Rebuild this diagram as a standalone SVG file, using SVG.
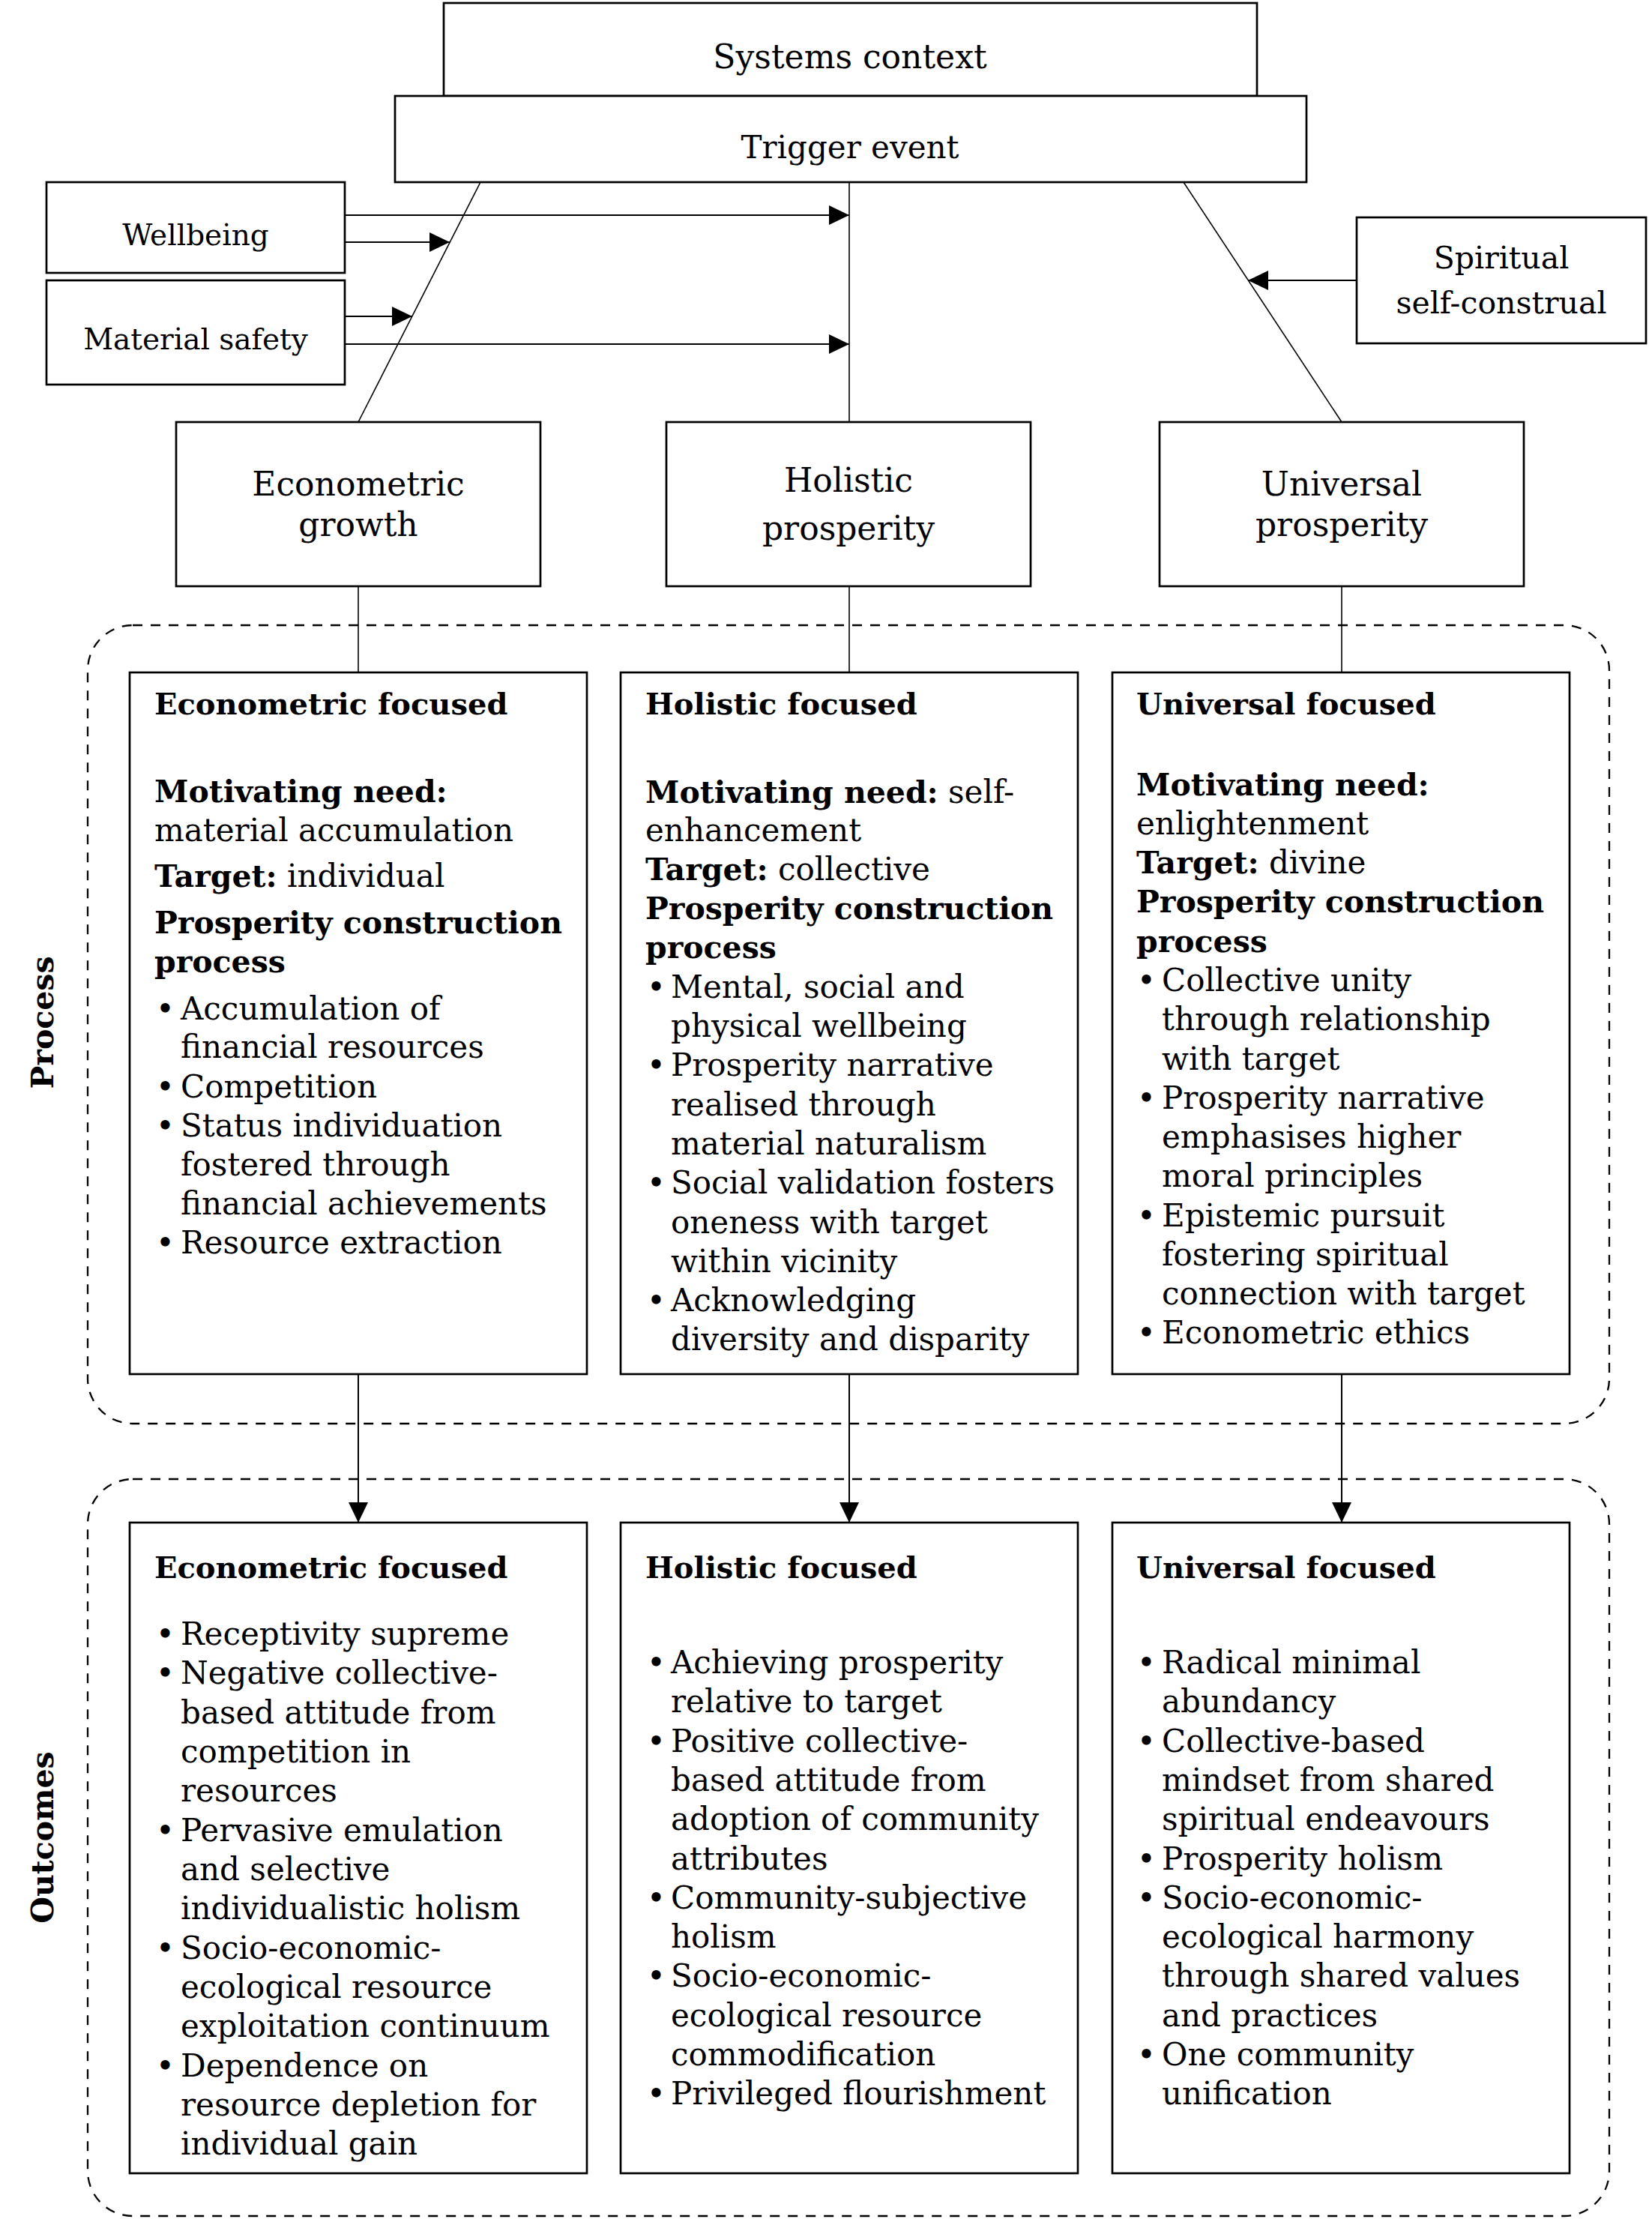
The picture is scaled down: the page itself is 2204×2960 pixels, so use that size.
<svg xmlns="http://www.w3.org/2000/svg" width="2204" height="2960" viewBox="0 0 2204 2960">
<style>
text{font-family:"DejaVu Serif","Liberation Serif",serif;font-size:42px;fill:#000}
.t{font-size:44px}
.s{font-size:39px}
.sp{font-size:41px}
.c{text-anchor:middle}
.h{font-weight:bold;font-size:40px}
.b{font-weight:bold;font-size:41px}
.lab{font-weight:bold;font-size:41px;text-anchor:middle}
.box{fill:#fff;stroke:#000;stroke-width:2.7}
.dash{fill:none;stroke:#000;stroke-width:2.3;stroke-dasharray:13 11}
.ln{stroke:#000;stroke-width:1.6;fill:none}
.ar{stroke:#000;stroke-width:2;fill:none;marker-end:url(#ah)}
</style>
<defs>
<marker id="ah" markerWidth="28" markerHeight="28" refX="27" refY="13" orient="auto" markerUnits="userSpaceOnUse"><path d="M0,0 L27,13 L0,26 z" fill="#000"/></marker>
</defs>
<rect width="2204" height="2960" fill="#fff"/>

<g id="process-region"><rect class="dash" x="117" y="834" width="2030" height="1065" rx="60"/>
<text class="lab" transform="translate(71,1364) rotate(-90)">Process</text></g>
<g id="outcomes-region"><rect class="dash" x="117" y="1973" width="2030" height="983" rx="60"/>
<text class="lab" transform="translate(71,2451) rotate(-90)">Outcomes</text></g>

<g id="connectors">
<line class="ln" x1="641" y1="243" x2="478" y2="563"/>
<line class="ln" x1="1133" y1="243" x2="1133" y2="563"/>
<line class="ln" x1="1579" y1="243" x2="1790" y2="563"/>
<line class="ar" x1="460" y1="287" x2="1133" y2="287"/>
<line class="ar" x1="460" y1="323" x2="600" y2="323"/>
<line class="ar" x1="460" y1="422" x2="550" y2="422"/>
<line class="ar" x1="460" y1="459" x2="1133" y2="459"/>
<line class="ar" x1="1810" y1="374" x2="1665" y2="374"/>
<line class="ln" x1="478" y1="782" x2="478" y2="897"/>
<line class="ln" x1="1133" y1="782" x2="1133" y2="897"/>
<line class="ln" x1="1790" y1="782" x2="1790" y2="897"/>
<line class="ar" x1="478" y1="1833" x2="478" y2="2031"/>
<line class="ar" x1="1133" y1="1833" x2="1133" y2="2031"/>
<line class="ar" x1="1790" y1="1833" x2="1790" y2="2031"/>
</g>

<g id="systems-context"><rect class="box" x="592" y="4" width="1085" height="124"/><text class="c t" x="1134" y="91">Systems context</text></g>
<g id="trigger-event"><rect class="box" x="527" y="128" width="1216" height="115"/><text class="c" x="1134" y="211">Trigger event</text></g>
<g id="wellbeing"><rect class="box" x="62" y="243" width="398" height="121"/><text class="c s" x="261" y="327">Wellbeing</text></g>
<g id="material-safety"><rect class="box" x="62" y="374" width="398" height="139"/><text class="c s" x="261" y="466">Material safety</text></g>
<g id="spiritual"><rect class="box" x="1810" y="290" width="386" height="168"/><text class="c sp" x="2003" y="358">Spiritual</text><text class="c sp" x="2003" y="418">self-construal</text></g>
<g id="econometric-growth"><rect class="box" x="235" y="563" width="486" height="219"/><text class="c t" x="478" y="661">Econometric</text><text class="c t" x="478" y="715">growth</text></g>
<g id="holistic-prosperity"><rect class="box" x="889" y="563" width="486" height="219"/><text class="c t" x="1132" y="656">Holistic</text><text class="c t" x="1132" y="720">prosperity</text></g>
<g id="universal-prosperity"><rect class="box" x="1547" y="563" width="486" height="219"/><text class="c t" x="1790" y="661">Universal</text><text class="c t" x="1790" y="715">prosperity</text></g>

<g id="process-econometric"><rect class="box" x="173" y="897" width="610" height="936"/>
<text class="h" x="206" y="953">Econometric focused</text>
<text class="b" x="206" y="1070">Motivating need:</text>
<text x="206" y="1122">material accumulation</text>
<text x="206" y="1183"><tspan class="b">Target:</tspan> individual</text>
<text class="b" x="206" y="1245">Prosperity construction</text>
<text class="b" x="206" y="1297">process</text>
<text y="1360"><tspan x="208">•</tspan><tspan x="241">Accumulation of</tspan></text>
<text x="241" y="1411">financial resources</text>
<text y="1464"><tspan x="208">•</tspan><tspan x="241">Competition</tspan></text>
<text y="1516"><tspan x="208">•</tspan><tspan x="241">Status individuation</tspan></text>
<text x="241" y="1568">fostered through</text>
<text x="241" y="1620">financial achievements</text>
<text y="1672"><tspan x="208">•</tspan><tspan x="241">Resource extraction</tspan></text>
</g>

<g id="process-holistic"><rect class="box" x="828" y="897" width="610" height="936"/>
<text class="h" x="861" y="953">Holistic focused</text>
<text x="861" y="1071"><tspan class="b">Motivating need:</tspan> self-</text>
<text x="861" y="1122">enhancement</text>
<text x="861" y="1174"><tspan class="b">Target:</tspan> collective</text>
<text class="b" x="861" y="1226">Prosperity construction</text>
<text class="b" x="861" y="1278">process</text>
<text y="1331"><tspan x="863">•</tspan><tspan x="895">Mental, social and</tspan></text>
<text x="895" y="1383">physical wellbeing</text>
<text y="1435"><tspan x="863">•</tspan><tspan x="895">Prosperity narrative</tspan></text>
<text x="895" y="1488">realised through</text>
<text x="895" y="1540">material naturalism</text>
<text y="1592"><tspan x="863">•</tspan><tspan x="895">Social validation fosters</tspan></text>
<text x="895" y="1645">oneness with target</text>
<text x="895" y="1697">within vicinity</text>
<text y="1749"><tspan x="863">•</tspan><tspan x="895">Acknowledging</tspan></text>
<text x="895" y="1801">diversity and disparity</text>
</g>

<g id="process-universal"><rect class="box" x="1484" y="897" width="610" height="936"/>
<text class="h" x="1516" y="953">Universal focused</text>
<text class="b" x="1516" y="1061">Motivating need:</text>
<text x="1516" y="1113">enlightenment</text>
<text x="1516" y="1165"><tspan class="b">Target:</tspan> divine</text>
<text class="b" x="1516" y="1217">Prosperity construction</text>
<text class="b" x="1516" y="1270">process</text>
<text y="1322"><tspan x="1517">•</tspan><tspan x="1550">Collective unity</tspan></text>
<text x="1550" y="1374">through relationship</text>
<text x="1550" y="1427">with target</text>
<text y="1479"><tspan x="1517">•</tspan><tspan x="1550">Prosperity narrative</tspan></text>
<text x="1550" y="1531">emphasises higher</text>
<text x="1550" y="1583">moral principles</text>
<text y="1636"><tspan x="1517">•</tspan><tspan x="1550">Epistemic pursuit</tspan></text>
<text x="1550" y="1688">fostering spiritual</text>
<text x="1550" y="1740">connection with target</text>
<text y="1792"><tspan x="1517">•</tspan><tspan x="1550">Econometric ethics</tspan></text>
</g>

<g id="outcome-econometric"><rect class="box" x="173" y="2031" width="610" height="868"/>
<text class="h" x="206" y="2105">Econometric focused</text>
<text y="2194"><tspan x="208">•</tspan><tspan x="241">Receptivity supreme</tspan></text>
<text y="2246"><tspan x="208">•</tspan><tspan x="241">Negative collective-</tspan></text>
<text x="241" y="2299">based attitude from</text>
<text x="241" y="2351">competition in</text>
<text x="241" y="2403">resources</text>
<text y="2456"><tspan x="208">•</tspan><tspan x="241">Pervasive emulation</tspan></text>
<text x="241" y="2508">and selective</text>
<text x="241" y="2560">individualistic holism</text>
<text y="2613"><tspan x="208">•</tspan><tspan x="241">Socio-economic-</tspan></text>
<text x="241" y="2665">ecological resource</text>
<text x="241" y="2717">exploitation continuum</text>
<text y="2770"><tspan x="208">•</tspan><tspan x="241">Dependence on</tspan></text>
<text x="241" y="2822">resource depletion for</text>
<text x="241" y="2874">individual gain</text>
</g>

<g id="outcome-holistic"><rect class="box" x="828" y="2031" width="610" height="868"/>
<text class="h" x="861" y="2105">Holistic focused</text>
<text y="2232"><tspan x="863">•</tspan><tspan x="895">Achieving prosperity</tspan></text>
<text x="895" y="2284">relative to target</text>
<text y="2337"><tspan x="863">•</tspan><tspan x="895">Positive collective-</tspan></text>
<text x="895" y="2389">based attitude from</text>
<text x="895" y="2441">adoption of community</text>
<text x="895" y="2494">attributes</text>
<text y="2546"><tspan x="863">•</tspan><tspan x="895">Community-subjective</tspan></text>
<text x="895" y="2598">holism</text>
<text y="2650"><tspan x="863">•</tspan><tspan x="895">Socio-economic-</tspan></text>
<text x="895" y="2703">ecological resource</text>
<text x="895" y="2755">commodification</text>
<text y="2807"><tspan x="863">•</tspan><tspan x="895">Privileged flourishment</tspan></text>
</g>

<g id="outcome-universal"><rect class="box" x="1484" y="2031" width="610" height="868"/>
<text class="h" x="1516" y="2105">Universal focused</text>
<text y="2232"><tspan x="1517">•</tspan><tspan x="1550">Radical minimal</tspan></text>
<text x="1550" y="2284">abundancy</text>
<text y="2337"><tspan x="1517">•</tspan><tspan x="1550">Collective-based</tspan></text>
<text x="1550" y="2389">mindset from shared</text>
<text x="1550" y="2441">spiritual endeavours</text>
<text y="2494"><tspan x="1517">•</tspan><tspan x="1550">Prosperity holism</tspan></text>
<text y="2546"><tspan x="1517">•</tspan><tspan x="1550">Socio-economic-</tspan></text>
<text x="1550" y="2598">ecological harmony</text>
<text x="1550" y="2650">through shared values</text>
<text x="1550" y="2703">and practices</text>
<text y="2755"><tspan x="1517">•</tspan><tspan x="1550">One community</tspan></text>
<text x="1550" y="2807">unification</text>
</g>
</svg>
